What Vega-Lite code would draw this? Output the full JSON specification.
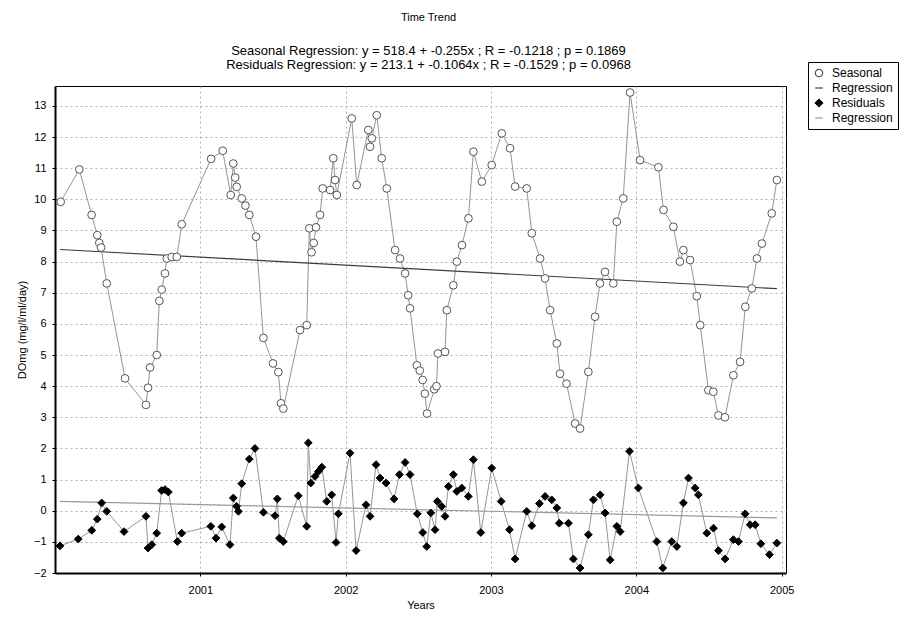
{
  "$schema": "https://vega.github.io/schema/vega-lite/v6.json",
  "width": 731,
  "height": 487,
  "autosize": {"type": "none"},
  "padding": {"left": 55, "top": 86, "right": 132, "bottom": 44},
  "background": "white",
  "title": {
    "text": "Time Trend",
    "subtitle": ["Seasonal Regression: y = 518.4 + -0.255x ; R = -0.1218 ; p = 0.1869", "Residuals Regression: y = 213.1 + -0.1064x ; R = -0.1529 ; p = 0.0968"],
    "font": "Liberation Sans", "fontSize": 11, "fontWeight": "normal", "color": "black",
    "subtitleFont": "Liberation Sans", "subtitleFontSize": 13, "subtitleColor": "black",
    "subtitlePadding": 22, "subtitleLineHeight": 14, "offset": -10, "anchor": "middle", "dx": 8
  },
  "config": {
    "view": {"stroke": "black", "strokeWidth": 1},
    "axis": {
      "labelFont": "Liberation Sans", "labelFontSize": 11, "labelColor": "black",
      "titleFont": "Liberation Sans", "titleFontSize": 11, "titleFontWeight": "normal", "titleColor": "black",
      "gridColor": "#b0b0b0", "gridDash": [2, 3], "gridWidth": 1,
      "domainColor": "black", "domainWidth": 2, "tickColor": "black", "tickSize": 3, "labelFlush": false
    }
  },
  "datasets": {
    "obs": [
      {"t":2000.039,"v":9.92,"s":"Seasonal"},{"t":2000.167,"v":10.96,"s":"Seasonal"},{"t":2000.252,"v":9.5,"s":"Seasonal"},{"t":2000.291,"v":8.85,"s":"Seasonal"},{"t":2000.305,"v":8.6,"s":"Seasonal"},{"t":2000.317,"v":8.45,"s":"Seasonal"},{"t":2000.356,"v":7.3,"s":"Seasonal"},{"t":2000.482,"v":4.25,"s":"Seasonal"},{"t":2000.626,"v":3.4,"s":"Seasonal"},{"t":2000.64,"v":3.95,"s":"Seasonal"},{"t":2000.654,"v":4.6,"s":"Seasonal"},{"t":2000.70,"v":5.0,"s":"Seasonal"},{"t":2000.718,"v":6.74,"s":"Seasonal"},{"t":2000.734,"v":7.1,"s":"Seasonal"},{"t":2000.757,"v":7.62,"s":"Seasonal"},{"t":2000.769,"v":8.1,"s":"Seasonal"},{"t":2000.803,"v":8.15,"s":"Seasonal"},{"t":2000.838,"v":8.15,"s":"Seasonal"},{"t":2000.872,"v":9.2,"s":"Seasonal"},
      {"t":2001.074,"v":11.3,"s":"Seasonal"},{"t":2001.154,"v":11.56,"s":"Seasonal"},{"t":2001.209,"v":10.14,"s":"Seasonal"},{"t":2001.227,"v":11.15,"s":"Seasonal"},{"t":2001.24,"v":10.7,"s":"Seasonal"},{"t":2001.25,"v":10.4,"s":"Seasonal"},{"t":2001.285,"v":10.03,"s":"Seasonal"},{"t":2001.31,"v":9.8,"s":"Seasonal"},{"t":2001.337,"v":9.5,"s":"Seasonal"},{"t":2001.383,"v":8.8,"s":"Seasonal"},{"t":2001.434,"v":5.55,"s":"Seasonal"},{"t":2001.50,"v":4.73,"s":"Seasonal"},{"t":2001.537,"v":4.45,"s":"Seasonal"},{"t":2001.555,"v":3.45,"s":"Seasonal"},{"t":2001.571,"v":3.28,"s":"Seasonal"},{"t":2001.686,"v":5.8,"s":"Seasonal"},{"t":2001.732,"v":5.96,"s":"Seasonal"},{"t":2001.75,"v":9.07,"s":"Seasonal"},{"t":2001.765,"v":8.3,"s":"Seasonal"},{"t":2001.78,"v":8.6,"s":"Seasonal"},{"t":2001.796,"v":9.1,"s":"Seasonal"},{"t":2001.824,"v":9.5,"s":"Seasonal"},{"t":2001.842,"v":10.35,"s":"Seasonal"},{"t":2001.893,"v":10.3,"s":"Seasonal"},{"t":2001.915,"v":11.32,"s":"Seasonal"},{"t":2001.927,"v":10.62,"s":"Seasonal"},{"t":2001.939,"v":10.14,"s":"Seasonal"},
      {"t":2002.042,"v":12.6,"s":"Seasonal"},{"t":2002.076,"v":10.46,"s":"Seasonal"},{"t":2002.156,"v":12.23,"s":"Seasonal"},{"t":2002.168,"v":11.69,"s":"Seasonal"},{"t":2002.18,"v":11.96,"s":"Seasonal"},{"t":2002.214,"v":12.7,"s":"Seasonal"},{"t":2002.248,"v":11.32,"s":"Seasonal"},{"t":2002.283,"v":10.35,"s":"Seasonal"},{"t":2002.34,"v":8.37,"s":"Seasonal"},{"t":2002.374,"v":8.1,"s":"Seasonal"},{"t":2002.409,"v":7.62,"s":"Seasonal"},{"t":2002.43,"v":6.92,"s":"Seasonal"},{"t":2002.443,"v":6.5,"s":"Seasonal"},{"t":2002.49,"v":4.67,"s":"Seasonal"},{"t":2002.51,"v":4.5,"s":"Seasonal"},{"t":2002.53,"v":4.2,"s":"Seasonal"},{"t":2002.545,"v":3.76,"s":"Seasonal"},{"t":2002.56,"v":3.12,"s":"Seasonal"},{"t":2002.61,"v":3.9,"s":"Seasonal"},{"t":2002.625,"v":4.0,"s":"Seasonal"},{"t":2002.635,"v":5.05,"s":"Seasonal"},{"t":2002.684,"v":5.1,"s":"Seasonal"},{"t":2002.696,"v":6.44,"s":"Seasonal"},{"t":2002.741,"v":7.24,"s":"Seasonal"},{"t":2002.765,"v":8.0,"s":"Seasonal"},{"t":2002.8,"v":8.53,"s":"Seasonal"},{"t":2002.845,"v":9.39,"s":"Seasonal"},{"t":2002.879,"v":11.53,"s":"Seasonal"},{"t":2002.937,"v":10.57,"s":"Seasonal"},
      {"t":2003.005,"v":11.1,"s":"Seasonal"},{"t":2003.074,"v":12.12,"s":"Seasonal"},{"t":2003.131,"v":11.64,"s":"Seasonal"},{"t":2003.166,"v":10.41,"s":"Seasonal"},{"t":2003.246,"v":10.35,"s":"Seasonal"},{"t":2003.281,"v":8.91,"s":"Seasonal"},{"t":2003.338,"v":8.1,"s":"Seasonal"},{"t":2003.372,"v":7.46,"s":"Seasonal"},{"t":2003.407,"v":6.44,"s":"Seasonal"},{"t":2003.453,"v":5.37,"s":"Seasonal"},{"t":2003.475,"v":4.4,"s":"Seasonal"},{"t":2003.52,"v":4.08,"s":"Seasonal"},{"t":2003.579,"v":2.8,"s":"Seasonal"},{"t":2003.613,"v":2.64,"s":"Seasonal"},{"t":2003.67,"v":4.46,"s":"Seasonal"},{"t":2003.716,"v":6.23,"s":"Seasonal"},{"t":2003.75,"v":7.3,"s":"Seasonal"},{"t":2003.785,"v":7.67,"s":"Seasonal"},{"t":2003.842,"v":7.3,"s":"Seasonal"},{"t":2003.866,"v":9.28,"s":"Seasonal"},{"t":2003.91,"v":10.03,"s":"Seasonal"},{"t":2003.957,"v":13.43,"s":"Seasonal"},
      {"t":2004.026,"v":11.26,"s":"Seasonal"},{"t":2004.152,"v":11.03,"s":"Seasonal"},{"t":2004.187,"v":9.66,"s":"Seasonal"},{"t":2004.255,"v":9.12,"s":"Seasonal"},{"t":2004.3,"v":8.0,"s":"Seasonal"},{"t":2004.324,"v":8.37,"s":"Seasonal"},{"t":2004.37,"v":8.05,"s":"Seasonal"},{"t":2004.416,"v":6.89,"s":"Seasonal"},{"t":2004.44,"v":5.96,"s":"Seasonal"},{"t":2004.496,"v":3.87,"s":"Seasonal"},{"t":2004.53,"v":3.82,"s":"Seasonal"},{"t":2004.565,"v":3.06,"s":"Seasonal"},{"t":2004.61,"v":3.0,"s":"Seasonal"},{"t":2004.668,"v":4.35,"s":"Seasonal"},{"t":2004.714,"v":4.78,"s":"Seasonal"},{"t":2004.75,"v":6.55,"s":"Seasonal"},{"t":2004.795,"v":7.14,"s":"Seasonal"},{"t":2004.83,"v":8.1,"s":"Seasonal"},{"t":2004.864,"v":8.58,"s":"Seasonal"},{"t":2004.932,"v":9.55,"s":"Seasonal"},{"t":2004.967,"v":10.62,"s":"Seasonal"},
      {"t":2000.034,"v":-1.13,"s":"Residuals"},{"t":2000.16,"v":-0.91,"s":"Residuals"},{"t":2000.253,"v":-0.63,"s":"Residuals"},{"t":2000.291,"v":-0.27,"s":"Residuals"},{"t":2000.321,"v":0.25,"s":"Residuals"},{"t":2000.356,"v":-0.02,"s":"Residuals"},{"t":2000.475,"v":-0.67,"s":"Residuals"},{"t":2000.626,"v":-0.18,"s":"Residuals"},{"t":2000.64,"v":-1.2,"s":"Residuals"},{"t":2000.666,"v":-1.09,"s":"Residuals"},{"t":2000.70,"v":-0.72,"s":"Residuals"},{"t":2000.734,"v":0.65,"s":"Residuals"},{"t":2000.757,"v":0.68,"s":"Residuals"},{"t":2000.78,"v":0.6,"s":"Residuals"},{"t":2000.842,"v":-0.99,"s":"Residuals"},{"t":2000.872,"v":-0.72,"s":"Residuals"},
      {"t":2001.072,"v":-0.5,"s":"Residuals"},{"t":2001.108,"v":-0.88,"s":"Residuals"},{"t":2001.147,"v":-0.52,"s":"Residuals"},{"t":2001.204,"v":-1.09,"s":"Residuals"},{"t":2001.227,"v":0.41,"s":"Residuals"},{"t":2001.25,"v":0.14,"s":"Residuals"},{"t":2001.262,"v":-0.02,"s":"Residuals"},{"t":2001.285,"v":0.87,"s":"Residuals"},{"t":2001.337,"v":1.66,"s":"Residuals"},{"t":2001.376,"v":2.0,"s":"Residuals"},{"t":2001.434,"v":-0.05,"s":"Residuals"},{"t":2001.514,"v":-0.16,"s":"Residuals"},{"t":2001.53,"v":0.38,"s":"Residuals"},{"t":2001.544,"v":-0.88,"s":"Residuals"},{"t":2001.571,"v":-0.99,"s":"Residuals"},{"t":2001.674,"v":0.48,"s":"Residuals"},{"t":2001.732,"v":-0.5,"s":"Residuals"},{"t":2001.743,"v":2.18,"s":"Residuals"},{"t":2001.76,"v":0.89,"s":"Residuals"},{"t":2001.789,"v":1.1,"s":"Residuals"},{"t":2001.812,"v":1.26,"s":"Residuals"},{"t":2001.836,"v":1.4,"s":"Residuals"},{"t":2001.87,"v":0.3,"s":"Residuals"},{"t":2001.904,"v":0.51,"s":"Residuals"},{"t":2001.934,"v":-1.02,"s":"Residuals"},{"t":2001.95,"v":-0.1,"s":"Residuals"},
      {"t":2002.03,"v":1.85,"s":"Residuals"},{"t":2002.072,"v":-1.28,"s":"Residuals"},{"t":2002.14,"v":0.19,"s":"Residuals"},{"t":2002.168,"v":-0.18,"s":"Residuals"},{"t":2002.209,"v":1.48,"s":"Residuals"},{"t":2002.237,"v":1.05,"s":"Residuals"},{"t":2002.278,"v":0.89,"s":"Residuals"},{"t":2002.333,"v":0.38,"s":"Residuals"},{"t":2002.37,"v":1.16,"s":"Residuals"},{"t":2002.409,"v":1.55,"s":"Residuals"},{"t":2002.443,"v":1.16,"s":"Residuals"},{"t":2002.493,"v":-0.1,"s":"Residuals"},{"t":2002.531,"v":-0.7,"s":"Residuals"},{"t":2002.558,"v":-1.15,"s":"Residuals"},{"t":2002.586,"v":-0.07,"s":"Residuals"},{"t":2002.615,"v":-0.61,"s":"Residuals"},{"t":2002.631,"v":0.3,"s":"Residuals"},{"t":2002.661,"v":0.14,"s":"Residuals"},{"t":2002.684,"v":-0.18,"s":"Residuals"},{"t":2002.707,"v":0.78,"s":"Residuals"},{"t":2002.741,"v":1.16,"s":"Residuals"},{"t":2002.765,"v":0.62,"s":"Residuals"},{"t":2002.799,"v":0.73,"s":"Residuals"},{"t":2002.844,"v":0.46,"s":"Residuals"},{"t":2002.879,"v":1.64,"s":"Residuals"},{"t":2002.93,"v":-0.7,"s":"Residuals"},
      {"t":2003.005,"v":1.37,"s":"Residuals"},{"t":2003.07,"v":0.3,"s":"Residuals"},{"t":2003.127,"v":-0.61,"s":"Residuals"},{"t":2003.166,"v":-1.55,"s":"Residuals"},{"t":2003.246,"v":-0.02,"s":"Residuals"},{"t":2003.281,"v":-0.48,"s":"Residuals"},{"t":2003.333,"v":0.23,"s":"Residuals"},{"t":2003.372,"v":0.46,"s":"Residuals"},{"t":2003.418,"v":0.35,"s":"Residuals"},{"t":2003.453,"v":0.09,"s":"Residuals"},{"t":2003.47,"v":-0.4,"s":"Residuals"},{"t":2003.533,"v":-0.4,"s":"Residuals"},{"t":2003.567,"v":-1.55,"s":"Residuals"},{"t":2003.613,"v":-1.84,"s":"Residuals"},{"t":2003.67,"v":-0.77,"s":"Residuals"},{"t":2003.705,"v":0.35,"s":"Residuals"},{"t":2003.751,"v":0.51,"s":"Residuals"},{"t":2003.785,"v":-0.07,"s":"Residuals"},{"t":2003.82,"v":-1.58,"s":"Residuals"},{"t":2003.866,"v":-0.5,"s":"Residuals"},{"t":2003.889,"v":-0.67,"s":"Residuals"},{"t":2003.953,"v":1.91,"s":"Residuals"},
      {"t":2004.014,"v":0.73,"s":"Residuals"},{"t":2004.141,"v":-0.99,"s":"Residuals"},{"t":2004.182,"v":-1.84,"s":"Residuals"},{"t":2004.244,"v":-0.99,"s":"Residuals"},{"t":2004.279,"v":-1.15,"s":"Residuals"},{"t":2004.324,"v":0.25,"s":"Residuals"},{"t":2004.359,"v":1.05,"s":"Residuals"},{"t":2004.405,"v":0.73,"s":"Residuals"},{"t":2004.427,"v":0.51,"s":"Residuals"},{"t":2004.485,"v":-0.72,"s":"Residuals"},{"t":2004.531,"v":-0.56,"s":"Residuals"},{"t":2004.565,"v":-1.28,"s":"Residuals"},{"t":2004.611,"v":-1.55,"s":"Residuals"},{"t":2004.668,"v":-0.93,"s":"Residuals"},{"t":2004.703,"v":-0.99,"s":"Residuals"},{"t":2004.749,"v":-0.1,"s":"Residuals"},{"t":2004.783,"v":-0.45,"s":"Residuals"},{"t":2004.818,"v":-0.45,"s":"Residuals"},{"t":2004.857,"v":-1.06,"s":"Residuals"},{"t":2004.916,"v":-1.41,"s":"Residuals"},{"t":2004.967,"v":-1.04,"s":"Residuals"}
    ],
    "reg1": [{"t":2000.034,"v":8.39},{"t":2004.967,"v":7.13}],
    "reg2": [{"t":2000.034,"v":0.30},{"t":2004.967,"v":-0.23}]
  },
  "encoding": {
    "x": {"field": "t", "type": "quantitative", "scale": {"domain": [2000, 2005.03], "nice": false, "zero": false},
      "axis": {"title": "Years", "values": [2001, 2002, 2003, 2004, 2005], "format": "d", "labelPadding": 8, "titlePadding": 4}},
    "y": {"field": "v", "type": "quantitative", "scale": {"domain": [-2, 13.64], "nice": false, "zero": false},
      "axis": {"title": "DOmg (mg/l/ml/day)", "values": [-2,-1,0,1,2,3,4,5,6,7,8,9,10,11,12,13], "format": "d", "labelPadding": 6, "titlePadding": 6}}
  },
  "layer": [
    {"data": {"name": "obs"}, "mark": {"type": "line", "color": "#959595", "strokeWidth": 1}, "encoding": {"detail": {"field": "s"}}},
    {"data": {"name": "reg1"}, "mark": {"type": "line", "color": "#3c3c3c", "strokeWidth": 1.2}, "encoding": {}},
    {"data": {"name": "reg2"}, "mark": {"type": "line", "color": "#9a9a9a", "strokeWidth": 1.2}, "encoding": {}},
    {"data": {"name": "obs"}, "mark": {"type": "point", "size": 60, "strokeWidth": 1, "opacity": 1, "fillOpacity": 1},
      "encoding": {
        "shape": {"field": "s", "type": "nominal", "scale": {"domain": ["Seasonal", "Regression ", "Residuals", "Regression"], "range": ["circle", "stroke", "diamond", "stroke"]},
          "legend": {"title": null, "orient": "none", "legendX": 753, "legendY": -24, "strokeColor": "black", "fillColor": "white", "padding": 5, "labelFont": "Liberation Sans", "labelFontSize": 12, "labelColor": "black", "labelOffset": 7, "symbolStrokeWidth": 1.2, "rowPadding": 2, "symbolSize": 55}},
        "fill": {"field": "s", "type": "nominal", "scale": {"domain": ["Seasonal", "Regression ", "Residuals", "Regression"], "range": ["#ffffff", "#3c3c3c", "#000000", "#9a9a9a"]},
          "legend": {"title": null, "orient": "none", "legendX": 753, "legendY": -24, "strokeColor": "black", "fillColor": "white", "padding": 5, "labelFont": "Liberation Sans", "labelFontSize": 12, "labelColor": "black", "labelOffset": 7, "symbolStrokeWidth": 1.2, "rowPadding": 2, "symbolSize": 55}},
        "stroke": {"field": "s", "type": "nominal", "scale": {"domain": ["Seasonal", "Regression ", "Residuals", "Regression"], "range": ["#555555", "#3c3c3c", "#000000", "#9a9a9a"]},
          "legend": {"title": null, "orient": "none", "legendX": 753, "legendY": -24, "strokeColor": "black", "fillColor": "white", "padding": 5, "labelFont": "Liberation Sans", "labelFontSize": 12, "labelColor": "black", "labelOffset": 7, "symbolStrokeWidth": 1.2, "rowPadding": 2, "symbolSize": 55}}
      }}
  ]
}
